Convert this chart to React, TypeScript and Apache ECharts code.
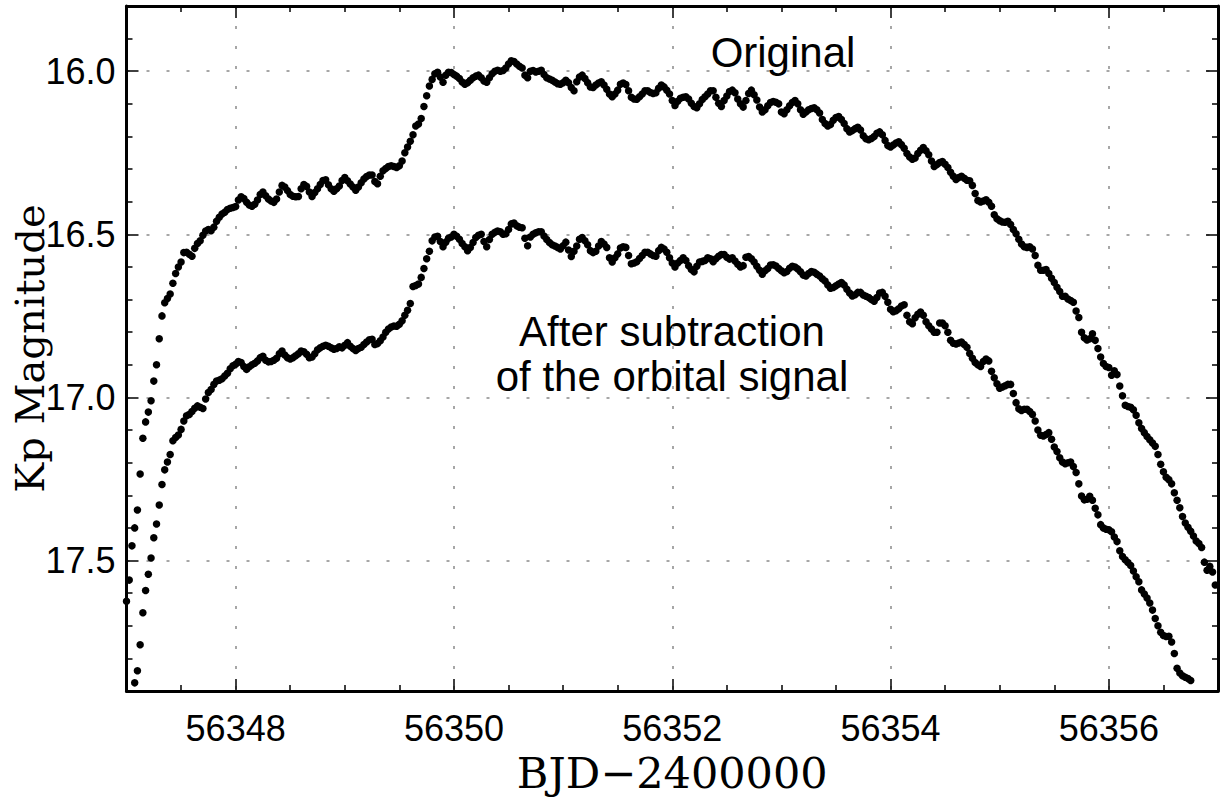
import React, { useEffect, useRef } from "react";
import * as echarts from "echarts";

// Axis extents
const X_MIN = 56347;
const X_MAX = 56357;
const Y_MIN = 15.8;
const Y_MAX = 17.9;

// Sampling of the light curves (days)
const CADENCE = 0.025;
const ORIG_START = 56347.0;
const AFTER_START = 56347.075;

// Original light curve (Kp mag), one array per day
const ORIG_D0 = [17.625, 17.56, 17.455, 17.40, 17.345, 17.235, 17.125, 17.075, 17.045, 17.01, 16.95, 16.90, 16.82, 16.75, 16.71, 16.697, 16.683, 16.65, 16.62, 16.60, 16.585, 16.556, 16.555, 16.561, 16.567, 16.543, 16.528, 16.52, 16.503, 16.49, 16.485, 16.489, 16.478, 16.46, 16.448, 16.438, 16.432, 16.424, 16.42, 16.418];
const ORIG_D1 = [16.415, 16.395, 16.385, 16.39, 16.402, 16.41, 16.414, 16.408, 16.395, 16.378, 16.37, 16.382, 16.392, 16.398, 16.402, 16.392, 16.37, 16.35, 16.355, 16.366, 16.378, 16.383, 16.385, 16.384, 16.36, 16.347, 16.353, 16.37, 16.384, 16.372, 16.36, 16.347, 16.335, 16.333, 16.348, 16.36, 16.368, 16.36, 16.352, 16.335];
const ORIG_D2 = [16.326, 16.336, 16.346, 16.355, 16.365, 16.355, 16.342, 16.33, 16.323, 16.318, 16.318, 16.338, 16.345, 16.322, 16.305, 16.298, 16.292, 16.29, 16.292, 16.295, 16.29, 16.275, 16.25, 16.232, 16.215, 16.195, 16.168, 16.162, 16.145, 16.108, 16.075, 16.045, 16.025, 16.008, 16.003, 16.018, 16.034, 16.012, 16.003, 16.004];
const ORIG_D3 = [16.01, 16.015, 16.022, 16.033, 16.04, 16.035, 16.028, 16.02, 16.015, 16.012, 16.02, 16.03, 16.034, 16.02, 16.008, 16.0, 15.997, 16.0, 15.998, 15.99, 15.978, 15.968, 15.97, 15.978, 15.985, 15.99, 16.012, 16.02, 16.0, 15.998, 16.002, 16.0, 15.997, 16.01, 16.02, 16.024, 16.028, 16.033, 16.038, 16.04];
const ORIG_D4 = [16.035, 16.028, 16.035, 16.05, 16.06, 16.032, 16.018, 16.012, 16.022, 16.035, 16.048, 16.05, 16.042, 16.036, 16.032, 16.042, 16.055, 16.07, 16.078, 16.07, 16.058, 16.04, 16.036, 16.041, 16.06, 16.08, 16.085, 16.086, 16.078, 16.07, 16.06, 16.06, 16.065, 16.068, 16.066, 16.052, 16.042, 16.048, 16.058, 16.07];
const ORIG_D5 = [16.09, 16.105, 16.092, 16.083, 16.08, 16.078, 16.085, 16.098, 16.108, 16.112, 16.1, 16.087, 16.078, 16.07, 16.06, 16.06, 16.08, 16.098, 16.108, 16.09, 16.076, 16.062, 16.058, 16.066, 16.085, 16.1, 16.11, 16.09, 16.068, 16.058, 16.072, 16.088, 16.11, 16.125, 16.118, 16.106, 16.096, 16.093, 16.095, 16.1];
const ORIG_D6 = [16.125, 16.13, 16.118, 16.106, 16.096, 16.09, 16.1, 16.118, 16.132, 16.125, 16.118, 16.114, 16.112, 16.118, 16.128, 16.148, 16.16, 16.168, 16.163, 16.15, 16.142, 16.139, 16.148, 16.16, 16.176, 16.186, 16.182, 16.176, 16.172, 16.18, 16.198, 16.207, 16.21, 16.206, 16.2, 16.19, 16.186, 16.195, 16.212, 16.228];
const ORIG_D7 = [16.232, 16.226, 16.22, 16.216, 16.225, 16.236, 16.252, 16.263, 16.27, 16.266, 16.252, 16.242, 16.234, 16.244, 16.256, 16.275, 16.292, 16.286, 16.28, 16.277, 16.285, 16.295, 16.31, 16.322, 16.332, 16.326, 16.322, 16.328, 16.334, 16.336, 16.35, 16.375, 16.396, 16.401, 16.398, 16.394, 16.402, 16.414, 16.44, 16.452];
const ORIG_D8 = [16.458, 16.462, 16.463, 16.46, 16.47, 16.485, 16.498, 16.515, 16.53, 16.538, 16.54, 16.538, 16.545, 16.565, 16.595, 16.61, 16.61, 16.608, 16.62, 16.635, 16.648, 16.662, 16.675, 16.69, 16.69, 16.698, 16.703, 16.708, 16.735, 16.755, 16.8, 16.817, 16.824, 16.82, 16.805, 16.825, 16.85, 16.876, 16.896, 16.905];
const ORIG_D9 = [16.908, 16.932, 16.918, 16.93, 16.965, 16.995, 17.024, 17.028, 17.03, 17.038, 17.055, 17.078, 17.095, 17.108, 17.12, 17.13, 17.14, 17.15, 17.175, 17.205, 17.228, 17.245, 17.252, 17.265, 17.292, 17.315, 17.338, 17.365, 17.385, 17.398, 17.41, 17.425, 17.44, 17.448, 17.46, 17.505, 17.53, 17.518, 17.535, 17.575];

// After subtraction of the orbital signal (Kp mag), one array per day
const AFTER_D0 = [17.875, 17.838, 17.758, 17.66, 17.592, 17.542, 17.492, 17.43, 17.388, 17.33, 17.267, 17.222, 17.198, 17.175, 17.133, 17.123, 17.115, 17.098, 17.072, 17.056, 17.052, 17.043, 17.033, 17.026, 17.03, 17.034, 17.005, 16.985, 16.976, 16.96, 16.95, 16.947, 16.943, 16.934, 16.926, 16.912, 16.903];
const AFTER_D1 = [16.898, 16.89, 16.893, 16.905, 16.914, 16.906, 16.9, 16.895, 16.888, 16.878, 16.874, 16.886, 16.891, 16.89, 16.886, 16.88, 16.866, 16.858, 16.87, 16.878, 16.882, 16.878, 16.872, 16.866, 16.858, 16.86, 16.868, 16.878, 16.876, 16.866, 16.854, 16.848, 16.843, 16.84, 16.843, 16.848, 16.852, 16.85, 16.845, 16.848];
const AFTER_D2 = [16.84, 16.832, 16.843, 16.85, 16.856, 16.85, 16.846, 16.838, 16.83, 16.823, 16.822, 16.838, 16.835, 16.826, 16.815, 16.8, 16.79, 16.784, 16.781, 16.782, 16.776, 16.765, 16.748, 16.733, 16.712, 16.66, 16.657, 16.652, 16.632, 16.605, 16.575, 16.552, 16.52, 16.508, 16.506, 16.522, 16.538, 16.524, 16.512, 16.508];
const AFTER_D3 = [16.5, 16.506, 16.515, 16.528, 16.538, 16.55, 16.54, 16.525, 16.51, 16.503, 16.5, 16.522, 16.538, 16.516, 16.5, 16.494, 16.49, 16.492, 16.5, 16.498, 16.485, 16.468, 16.465, 16.474, 16.478, 16.48, 16.512, 16.535, 16.508, 16.5, 16.495, 16.492, 16.492, 16.505, 16.516, 16.525, 16.532, 16.536, 16.54, 16.545];
const AFTER_D4 = [16.535, 16.524, 16.548, 16.568, 16.552, 16.536, 16.515, 16.51, 16.52, 16.532, 16.55, 16.556, 16.552, 16.536, 16.522, 16.53, 16.54, 16.572, 16.585, 16.572, 16.56, 16.542, 16.538, 16.54, 16.565, 16.59, 16.588, 16.584, 16.574, 16.565, 16.555, 16.555, 16.56, 16.565, 16.567, 16.55, 16.54, 16.545, 16.555, 16.572];
const AFTER_D5 = [16.588, 16.6, 16.588, 16.58, 16.572, 16.58, 16.596, 16.608, 16.615, 16.598, 16.585, 16.583, 16.58, 16.572, 16.575, 16.584, 16.575, 16.567, 16.562, 16.562, 16.57, 16.576, 16.572, 16.582, 16.592, 16.6, 16.596, 16.57, 16.568, 16.575, 16.585, 16.598, 16.61, 16.622, 16.612, 16.605, 16.594, 16.593, 16.597, 16.605];
const AFTER_D6 = [16.612, 16.618, 16.614, 16.604, 16.598, 16.6, 16.606, 16.615, 16.625, 16.628, 16.62, 16.614, 16.616, 16.622, 16.628, 16.636, 16.643, 16.655, 16.665, 16.663, 16.658, 16.652, 16.648, 16.655, 16.668, 16.68, 16.689, 16.685, 16.678, 16.678, 16.686, 16.69, 16.694, 16.7, 16.705, 16.694, 16.68, 16.678, 16.69, 16.708];
const AFTER_D7 = [16.73, 16.737, 16.734, 16.728, 16.72, 16.716, 16.748, 16.768, 16.774, 16.756, 16.745, 16.738, 16.748, 16.768, 16.78, 16.79, 16.8, 16.8, 16.772, 16.772, 16.78, 16.8, 16.825, 16.834, 16.836, 16.833, 16.83, 16.838, 16.846, 16.865, 16.88, 16.893, 16.9, 16.905, 16.89, 16.882, 16.888, 16.92, 16.94, 16.958];
const AFTER_D8 = [16.972, 16.968, 16.964, 16.96, 16.96, 16.988, 17.016, 17.035, 17.04, 17.036, 17.036, 17.043, 17.052, 17.072, 17.1, 17.116, 17.118, 17.114, 17.108, 17.128, 17.152, 17.166, 17.185, 17.198, 17.203, 17.2, 17.198, 17.212, 17.23, 17.265, 17.302, 17.314, 17.312, 17.303, 17.315, 17.34, 17.36, 17.39, 17.4, 17.404];
const AFTER_D9 = [17.406, 17.412, 17.428, 17.442, 17.47, 17.488, 17.498, 17.506, 17.515, 17.532, 17.55, 17.565, 17.59, 17.603, 17.615, 17.63, 17.652, 17.678, 17.7, 17.72, 17.73, 17.733, 17.732, 17.75, 17.785, 17.83, 17.845, 17.853, 17.858, 17.862, 17.868];

const ORIGINAL = [...ORIG_D0, ...ORIG_D1, ...ORIG_D2, ...ORIG_D3, ...ORIG_D4, ...ORIG_D5, ...ORIG_D6, ...ORIG_D7, ...ORIG_D8, ...ORIG_D9];
const AFTER = [...AFTER_D0, ...AFTER_D1, ...AFTER_D2, ...AFTER_D3, ...AFTER_D4, ...AFTER_D5, ...AFTER_D6, ...AFTER_D7, ...AFTER_D8, ...AFTER_D9];

const LABEL_ORIGINAL = "Original";
const LABEL_AFTER = "After subtraction\nof the orbital signal";
const X_TITLE = "BJD\u22122400000";
const Y_TITLE = "Kp Magnitude";

const toPoints = (start: number, vals: number[]) =>
  vals.map((v, i) => [Number((start + i * CADENCE).toFixed(4)), v]);

export default function App() {
  const ref = useRef<HTMLDivElement>(null);

  useEffect(() => {
    if (!ref.current) return;
    const chart = echarts.init(ref.current, null, { renderer: "svg" });

    const sans = "'Liberation Sans', Arial, Helvetica, sans-serif";
    const serif = "'DejaVu Serif', 'Liberation Serif', serif";
    const axisLine = { show: true, onZero: false, lineStyle: { color: "#000", width: 3 } };
    const axisTick = { show: true, inside: true, length: 12, lineStyle: { color: "#000", width: 1.5 } };
    const minorX = { show: true, splitNumber: 4, length: 6, lineStyle: { color: "#000", width: 1.5 } };
    const minorY = { show: true, splitNumber: 5, length: 6, lineStyle: { color: "#000", width: 1.5 } };
    const split = {
      show: true,
      showMinLine: false,
      showMaxLine: false,
      lineStyle: { color: "#8a8a8a", width: 1.5, type: [3, 17] },
    };
    const dotStyle = { color: "#000", opacity: 1, borderWidth: 0 };

    chart.setOption({
      animation: false,
      backgroundColor: "#fff",
      grid: { left: 126.5, right: 6, top: 6, bottom: 107, containLabel: false, outerBoundsMode: "none" },
      xAxis: [
        {
          type: "value",
          position: "bottom",
          min: X_MIN,
          max: X_MAX,
          splitNumber: 5,
          axisLine,
          axisTick,
          minorTick: minorX,
          splitLine: split,
          axisLabel: {
            show: true,
            margin: 19,
            fontFamily: sans,
            fontSize: 36,
            color: "#000",
            showMinLabel: false,
            showMaxLabel: false,
            formatter: (v: number) => String(v),
          },
          name: X_TITLE,
          nameLocation: "middle",
          nameGap: 66,
          nameTextStyle: { fontFamily: serif, fontSize: 43, lineHeight: 32, color: "#000" },
        },
        {
          type: "value",
          position: "top",
          min: X_MIN,
          max: X_MAX,
          splitNumber: 5,
          axisLine,
          axisTick,
          minorTick: minorX,
          splitLine: { show: false },
          axisLabel: { show: false },
        },
      ],
      yAxis: [
        {
          type: "value",
          position: "left",
          inverse: true,
          min: Y_MIN,
          max: Y_MAX,
          splitNumber: 4,
          axisLine,
          axisTick,
          minorTick: minorY,
          splitLine: split,
          axisLabel: {
            show: true,
            margin: 11,
            fontFamily: sans,
            fontSize: 36,
            color: "#000",
            showMinLabel: false,
            showMaxLabel: false,
            formatter: (v: number) => v.toFixed(1),
          },
          name: Y_TITLE,
          nameLocation: "middle",
          nameRotate: 90,
          nameGap: 97,
          nameMoveOverlap: false,
          nameTextStyle: {
            fontFamily: serif,
            fontSize: 40,
            lineHeight: 40,
            verticalAlign: "middle",
            color: "#000",
          },
        },
        {
          type: "value",
          position: "right",
          inverse: true,
          min: Y_MIN,
          max: Y_MAX,
          splitNumber: 4,
          axisLine,
          axisTick,
          minorTick: minorY,
          splitLine: { show: false },
          axisLabel: { show: false },
        },
      ],
      graphic: [
        {
          type: "text",
          silent: true,
          style: {
            text: LABEL_ORIGINAL,
            x: 783,
            y: 52,
            align: "center",
            verticalAlign: "middle",
            fontFamily: sans,
            fontSize: 42,
            fill: "#000",
          },
        },
        {
          type: "text",
          silent: true,
          style: {
            text: LABEL_AFTER,
            x: 672,
            y: 354,
            align: "center",
            verticalAlign: "middle",
            lineHeight: 45,
            fontFamily: sans,
            fontSize: 42,
            fill: "#000",
          },
        },
      ],
      series: [
        {
          type: "scatter",
          name: "Original",
          xAxisIndex: 0,
          yAxisIndex: 0,
          symbol: "circle",
          symbolSize: 7.5,
          itemStyle: dotStyle,
          silent: true,
          data: toPoints(ORIG_START, ORIGINAL),
        },
        {
          type: "scatter",
          name: "After subtraction",
          xAxisIndex: 0,
          yAxisIndex: 0,
          symbol: "circle",
          symbolSize: 7.5,
          itemStyle: dotStyle,
          silent: true,
          data: toPoints(AFTER_START, AFTER),
        },
      ],
    });

    return () => {
      chart.dispose();
    };
  }, []);

  return (
    <div
      ref={ref}
      style={{ position: "fixed", left: 0, top: 0, width: 1224, height: 798, background: "#fff" }}
    />
  );
}
